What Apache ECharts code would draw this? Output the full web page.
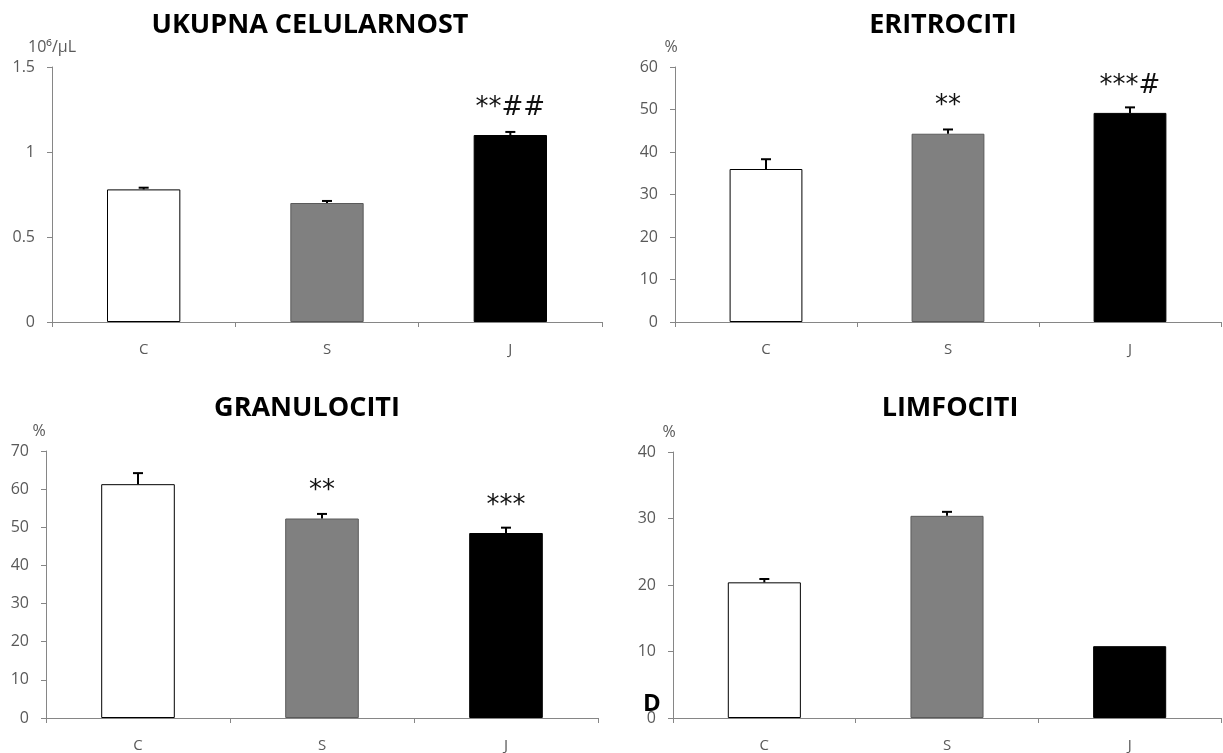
<!DOCTYPE html>
<html>
<head>
<meta charset="utf-8">
<script src="https://cdn.jsdelivr.net/npm/echarts@6/dist/echarts.min.js"></script>
<style>
html,body{margin:0;padding:0;background:#fff;}
#c{width:1223px;height:753px;}
</style>
</head>
<body>
<div id="c"></div>
<script>
const categories = ['C', 'S', 'J'];

const celularnost = [0.78, 0.70, 1.10];
const celularnostErr = [0.01, 0.012, 0.018];
const celularnostMarks = ['', '', '**##'];

const eritrociti = [36.0, 44.3, 49.2];
const eritrocitiErr = [2.3, 1.0, 1.3];
const eritrocitiMarks = ['', '**', '***#'];

const granulociti = [61.3, 52.3, 48.5];
const granulocitiErr = [2.9, 1.2, 1.4];
const granulocitiMarks = ['', '**', '***'];

const limfociti = [20.4, 30.4, 10.8];
const limfocitiErr = [0.5, 0.6, 0];
const limfocitiMarks = ['', '', ''];

const panels = [
  { title: 'UKUPNA CELULARNOST', unit: '10⁶/µL', unitPad: [0, 0, 0, 0], vals: celularnost, errs: celularnostErr, marks: celularnostMarks, max: 1.5, interval: 0.5,
    grid: { left: 52, top: 67, width: 550, height: 255 }, tx: 305, ty: 7 },
  { title: 'ERITROCITI', unit: '%', unitPad: [0, 8, 0, 0], vals: eritrociti, errs: eritrocitiErr, marks: eritrocitiMarks, max: 60, interval: 10,
    grid: { left: 675, top: 67, width: 546, height: 255 }, tx: 938, ty: 7 },
  { title: 'GRANULOCITI', unit: '%', unitPad: [0, 14, 0, 0], vals: granulociti, errs: granulocitiErr, marks: granulocitiMarks, max: 70, interval: 10,
    grid: { left: 46, top: 451, width: 552, height: 267 }, tx: 302, ty: 390 },
  { title: 'LIMFOCITI', unit: '%', unitPad: [0, 8, 0, 0], vals: limfociti, errs: limfocitiErr, marks: limfocitiMarks, max: 40, interval: 10,
    grid: { left: 673, top: 452, width: 548, height: 266 }, tx: 945, ty: 390 }
];

const barStyles = [
  { color: '#ffffff', borderColor: '#000000', borderWidth: 1 },
  { color: '#808080', borderColor: '#5a5a5a', borderWidth: 1 },
  { color: '#000000', borderColor: '#000000', borderWidth: 1 }
];

const FONT = '"Open Sans", "DejaVu Sans", sans-serif';
const axisColor = '#868686';
const labelColor = '#595959';

const option = {
  animation: false,
  backgroundColor: '#ffffff',
  title: [], grid: [], xAxis: [], yAxis: [], series: [],
  graphic: [{
    type: 'text', left: 643, top: 692,
    style: { text: 'D', font: 'bold 24px "Open Sans", sans-serif', fill: '#000' }
  }]
};

panels.forEach((p, i) => {
  option.title.push({
    text: p.title, left: p.tx, top: p.ty, textAlign: 'center',
    textStyle: { fontFamily: FONT, fontWeight: 'bold', fontSize: 27, color: '#000' }
  });
  option.grid.push(Object.assign({ containLabel: false }, p.grid));
  option.xAxis.push({
    type: 'category', gridIndex: i, data: categories,
    axisLine: { lineStyle: { color: axisColor, width: 1 } },
    axisTick: { show: true, length: 5, lineStyle: { color: axisColor } },
    axisLabel: { color: labelColor, fontFamily: FONT, fontSize: 15, margin: 20 },
    splitLine: { show: false }
  });
  option.yAxis.push({
    type: 'value', gridIndex: i, min: 0, max: p.max, interval: p.interval,
    name: p.unit, nameLocation: 'end', nameGap: 12,
    nameTextStyle: { color: labelColor, fontFamily: FONT, fontSize: 16, align: 'center', padding: p.unitPad },
    axisLine: { show: true, lineStyle: { color: axisColor, width: 1 } },
    axisTick: { show: true, length: 5, lineStyle: { color: axisColor } },
    axisLabel: { color: labelColor, fontFamily: FONT, fontSize: 16, margin: 17 },
    splitLine: { show: false }
  });
  option.series.push({
    type: 'bar', xAxisIndex: i, yAxisIndex: i, barWidth: '40%',
    data: p.vals.map((v, k) => ({ value: v, itemStyle: barStyles[k] })),
    label: {
      show: true, position: 'top', distance: 14,
      formatter: (d) => p.marks[d.dataIndex],
      fontFamily: '"DejaVu Sans", sans-serif', fontSize: 26, color: '#111'
    }
  });
  option.series.push({
    type: 'custom', xAxisIndex: i, yAxisIndex: i, z: 5,
    data: p.vals.map((v, k) => [k, v, p.errs[k]]),
    renderItem: (params, api) => {
      const x = api.value(0), v = api.value(1), e = api.value(2);
      if (!e) return null;
      const base = api.coord([x, v]);
      const top = api.coord([x, v + e]);
      const st = { stroke: '#000', lineWidth: 2 };
      return {
        type: 'group',
        children: [
          { type: 'line', shape: { x1: base[0], y1: base[1], x2: top[0], y2: top[1] }, style: st },
          { type: 'line', shape: { x1: top[0] - 5, y1: top[1], x2: top[0] + 5, y2: top[1] }, style: st }
        ]
      };
    }
  });
});

const chart = echarts.init(document.getElementById('c'), null, { renderer: 'canvas' });
chart.setOption(option);
</script>
</body>
</html>
